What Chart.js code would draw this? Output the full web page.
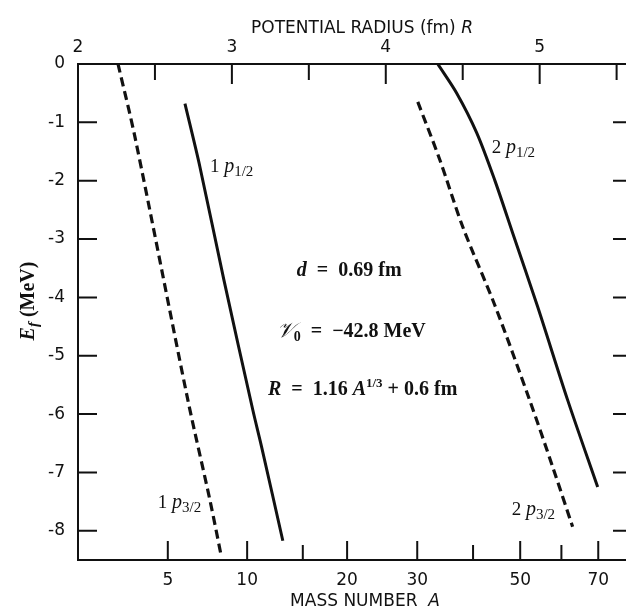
<!DOCTYPE html>
<html>
<head>
<meta charset="utf-8">
<script src="https://cdn.jsdelivr.net/npm/chart.js@4.4.1/dist/chart.umd.min.js"></script>
<style>
  html, body { margin: 0; padding: 0; background: #fff; overflow: hidden; }
  canvas { display: block; }
</style>
</head>
<body>
<canvas id="chart" width="640" height="609"></canvas>
<script>
// values: radius R (fm) against E_f (MeV)
var p32_1_R = [2.26, 2.37, 2.714, 2.857, 2.93];
var p32_1_E = [0, -1.25, -5.76, -7.47, -8.42];

var p12_1_R = [2.695, 2.792, 2.948, 3.136, 3.193, 3.331];
var p12_1_E = [-0.68, -1.76, -3.70, -5.93, -6.56, -8.17];

var p12_2_R = [4.338, 4.461, 4.591, 4.708, 4.825, 4.987, 5.182, 5.377];
var p12_2_E = [0, -0.50, -1.18, -1.99, -2.90, -4.16, -5.76, -7.25];

var p32_2_R = [4.208, 4.351, 4.500, 4.708, 4.935, 5.084, 5.214];
var p32_2_E = [-0.65, -1.64, -2.79, -4.13, -5.76, -6.90, -7.93];

// axis ticks
var massTicks = [5, 10, 15, 20, 30, 40, 50, 60, 70];
var massLabels = [5, 10, 20, 30, 50, 70];
var radiusTicks = [2, 2.5, 3, 3.5, 4, 4.5, 5, 5.5];
var energyTicks = [0, -1, -2, -3, -4, -5, -6, -7, -8];

// R = 1.16 A^(1/3) + 0.6 fm
function radiusOf(a) { return 1.16 * Math.cbrt(a) + 0.6; }

function pts(xs, ys) {
  return xs.map(function (x, i) { return { x: x, y: ys[i] }; });
}

var SANS = '"DejaVu Sans", Arial, sans-serif';
var SERIF = '"Liberation Serif", "Times New Roman", serif';
var SP = '\u2002'; // wide space as in the typeset labels

function drawRich(ctx, x, y, parts) {
  var cx = x;
  parts.forEach(function (p) {
    ctx.font = p.font;
    ctx.fillText(p.t, cx, y + (p.dy || 0));
    cx += ctx.measureText(p.t).width;
  });
  return cx - x;
}
function richWidth(ctx, parts) {
  var w = 0;
  parts.forEach(function (p) { ctx.font = p.font; w += ctx.measureText(p.t).width; });
  return w;
}

function curveLabel(n, sub) {
  return [
    { t: n + ' ', font: '19px ' + SERIF },
    { t: 'p', font: 'italic 20px ' + SERIF },
    { t: sub, font: '15px ' + SERIF, dy: 4 }
  ];
}

// inward ticks, frame, titles and annotations
var decorations = {
  id: 'decorations',
  afterDraw: function (chart) {
    var ctx = chart.ctx;
    var a = chart.chartArea;
    var sx = chart.scales.x, st = chart.scales.x2, sy = chart.scales.y;
    ctx.save();
    ctx.strokeStyle = '#111';
    ctx.lineWidth = 2;
    ctx.beginPath();
    massTicks.forEach(function (m) {
      var px = sx.getPixelForValue(radiusOf(m));
      var len = massLabels.indexOf(m) >= 0 ? 19 : 15;
      ctx.moveTo(px, a.bottom); ctx.lineTo(px, a.bottom - len);
    });
    radiusTicks.forEach(function (r) {
      var px = st.getPixelForValue(r);
      var len = r % 1 === 0 ? 20 : 16;
      ctx.moveTo(px, a.top); ctx.lineTo(px, a.top + len);
    });
    energyTicks.forEach(function (e) {
      if (e === 0) return;
      var py = sy.getPixelForValue(e);
      ctx.moveTo(a.left, py); ctx.lineTo(a.left + 19, py);
      ctx.moveTo(a.right, py); ctx.lineTo(a.right - 19, py);
    });
    ctx.moveTo(a.right, a.top); ctx.lineTo(a.right, a.bottom);
    ctx.stroke();

    ctx.fillStyle = '#111';
    ctx.textBaseline = 'alphabetic';
    ctx.textAlign = 'left';

    // axis titles
    var top = [
      { t: 'POTENTIAL RADIUS (fm) ', font: '17px ' + SANS },
      { t: 'R', font: 'italic 17px ' + SANS }
    ];
    drawRich(ctx, 362 - richWidth(ctx, top) / 2, 33, top);
    var bottom = [
      { t: 'MASS NUMBER  ', font: '17px ' + SANS },
      { t: 'A', font: 'italic 17px ' + SANS }
    ];
    drawRich(ctx, 365 - richWidth(ctx, bottom) / 2, 606, bottom);

    var ylab = [
      { t: 'E', font: 'italic bold 20px ' + SERIF },
      { t: 'f', font: 'italic bold 15px ' + SERIF, dy: 4 },
      { t: ' (MeV)', font: 'bold 20px ' + SERIF }
    ];
    ctx.save();
    ctx.translate(34, 301);
    ctx.rotate(-Math.PI / 2);
    drawRich(ctx, -richWidth(ctx, ylab) / 2, 0, ylab);
    ctx.restore();

    // curve labels
    function at(r, e, parts) {
      drawRich(ctx, sx.getPixelForValue(r), sy.getPixelForValue(e), parts);
    }
    at(2.857, -1.85, curveLabel('1', '1/2'));
    at(4.688, -1.53, curveLabel('2', '1/2'));
    at(2.519, -7.61, curveLabel('1', '3/2'));
    at(4.818, -7.73, curveLabel('2', '3/2'));

    // parameters
    at(3.422, -3.63, [
      { t: 'd', font: 'italic bold 20px ' + SERIF },
      { t: SP + '=' + SP + '0.69 fm', font: 'bold 20px ' + SERIF }
    ]);
    at(3.292, -4.68, [
      { t: '\u{1D4B1}', font: 'italic 21px ' + SERIF },
      { t: '0', font: 'bold 14px ' + SERIF, dy: 4 },
      { t: SP + '=' + SP + '\u221242.8 MeV', font: 'bold 20px ' + SERIF }
    ]);
    at(3.234, -5.67, [
      { t: 'R', font: 'italic bold 20px ' + SERIF },
      { t: SP + '=' + SP + '1.16 ', font: 'bold 20px ' + SERIF },
      { t: 'A', font: 'italic bold 20px ' + SERIF },
      { t: '1/3', font: 'bold 13px ' + SERIF, dy: -8 },
      { t: ' + 0.6 fm', font: 'bold 20px ' + SERIF }
    ]);
    ctx.restore();
  }
};

var solid = { borderColor: '#111', borderWidth: 3, pointRadius: 0, showLine: true, fill: false, tension: 0.3 };
var dashed = Object.assign({}, solid, { borderDash: [9, 5], borderWidth: 3.2 });

var tickFont = { family: SANS, size: 17 };

new Chart(document.getElementById('chart'), {
  type: 'scatter',
  data: {
    datasets: [
      Object.assign({ label: '1 p3/2', data: pts(p32_1_R, p32_1_E) }, dashed),
      Object.assign({ label: '1 p1/2', data: pts(p12_1_R, p12_1_E) }, solid),
      Object.assign({ label: '2 p1/2', data: pts(p12_2_R, p12_2_E) }, solid),
      Object.assign({ label: '2 p3/2', data: pts(p32_2_R, p32_2_E) }, dashed)
    ]
  },
  options: {
    responsive: false,
    animation: false,
    devicePixelRatio: 1,
    layout: { padding: { left: 0, right: 8, top: 0, bottom: 0 } },
    plugins: { legend: { display: false }, tooltip: { enabled: false } },
    scales: {
      x: {
        type: 'linear', position: 'bottom', min: 2, max: 5.6,
        afterBuildTicks: function (s) { s.ticks = massTicks.map(function (m) { return { value: radiusOf(m) }; }); },
        afterFit: function (s) { s.height = 49; },
        ticks: {
          autoSkip: false, maxRotation: 0, padding: 10, color: '#111', font: tickFont,
          callback: function (v, i) { var m = massTicks[i]; return massLabels.indexOf(m) >= 0 ? String(m) : ''; }
        },
        grid: { drawOnChartArea: false, drawTicks: false },
        border: { display: true, color: '#111', width: 2 }
      },
      x2: {
        type: 'linear', position: 'top', min: 2, max: 5.6,
        afterBuildTicks: function (s) { s.ticks = radiusTicks.map(function (r) { return { value: r }; }); },
        afterFit: function (s) { s.height = 64; },
        ticks: {
          autoSkip: false, maxRotation: 0, padding: 6, color: '#111', font: tickFont,
          callback: function (v) { return v % 1 === 0 ? String(v) : ''; }
        },
        grid: { drawOnChartArea: false, drawTicks: false },
        border: { display: true, color: '#111', width: 2 }
      },
      y: {
        type: 'linear', min: -8.5, max: 0,
        afterBuildTicks: function (s) { s.ticks = energyTicks.map(function (e) { return { value: e }; }); },
        afterFit: function (s) { s.width = 78; },
        ticks: {
          padding: 13, color: '#111', font: tickFont,
          callback: function (v) { return String(v); }
        },
        grid: { drawOnChartArea: false, drawTicks: false },
        border: { display: true, color: '#111', width: 2 }
      }
    }
  },
  plugins: [decorations]
});
</script>
</body>
</html>
